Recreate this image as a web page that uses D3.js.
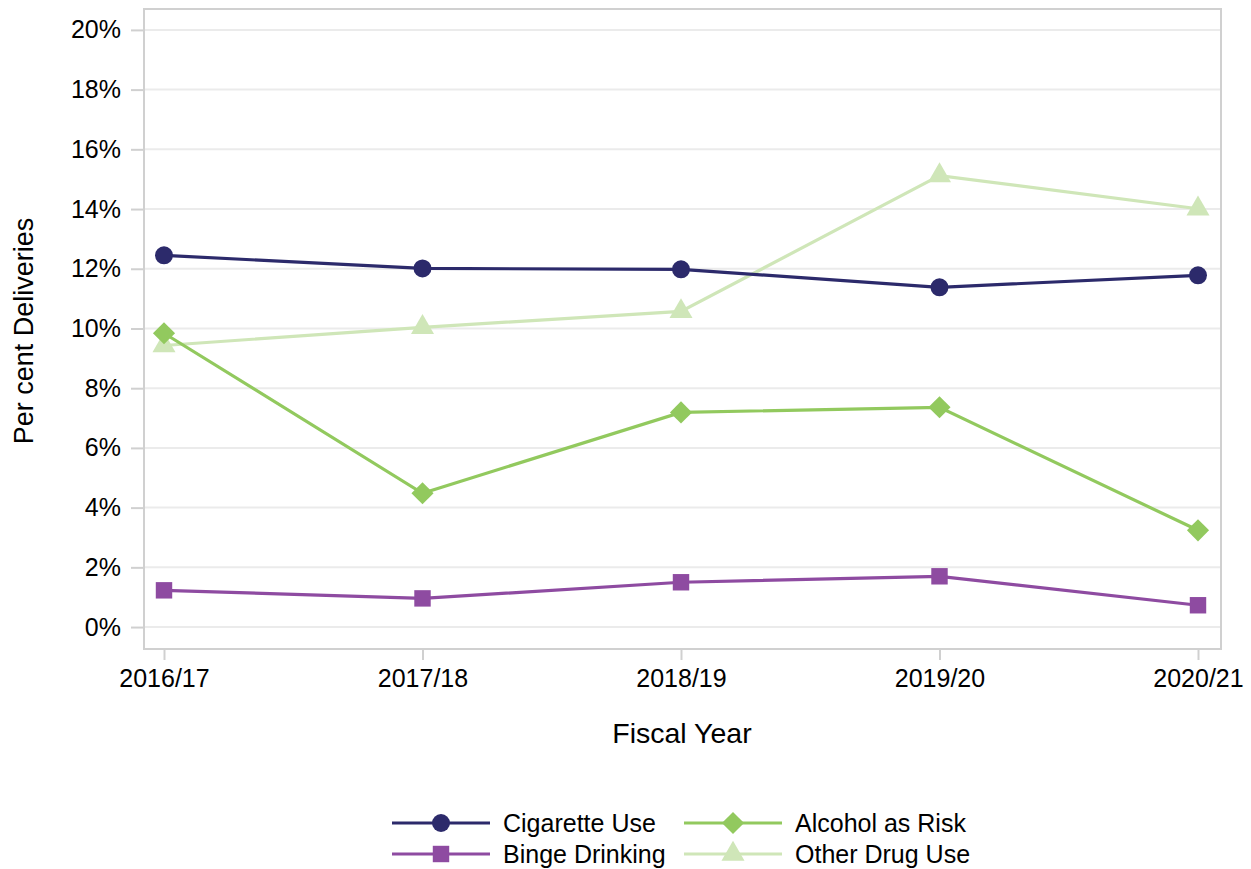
<!DOCTYPE html>
<html><head><meta charset="utf-8">
<script src="https://cdn.jsdelivr.net/npm/d3@7"></script>
<style>body{margin:0;background:#fff;} text{font-family:"Liberation Sans",Arial,sans-serif;fill:#000;}</style>
</head><body>
<svg id="chart" width="1251" height="869"></svg>
<script>
const years = ["2016/17","2017/18","2018/19","2019/20","2020/21"];
const cigarette = [12.45, 12.01, 11.98, 11.38, 11.78];
const binge = [1.23, 0.96, 1.50, 1.70, 0.73];
const alcohol = [9.84, 4.48, 7.19, 7.36, 3.24];
const otherDrug = [9.43, 10.04, 10.57, 15.12, 14.01];
const yTicks = [0,2,4,6,8,10,12,14,16,18,20];
const seriesNames = ["Cigarette Use","Binge Drinking","Alcohol as Risk","Other Drug Use"];

const series = [
  {name: seriesNames[0], values: cigarette, color: "#2c2a6b", symbol: d3.symbolCircle, size: 254, rot: 0},
  {name: seriesNames[1], values: binge, color: "#8e4ba1", symbol: d3.symbolSquare, size: 270, rot: 0},
  {name: seriesNames[2], values: alcohol, color: "#92c95e", symbol: d3.symbolSquare, size: 245, rot: 45},
  {name: seriesNames[3], values: otherDrug, color: "#cfe6b8", symbol: d3.symbolTriangle, size: 230, rot: 0}
];

const svg = d3.select("#chart");
const L = 144, R = 1221, T = 9, B = 649;
const x = d3.scalePoint().domain(years).range([164, 1198]);
const y = d3.scaleLinear().domain([-0.735, 20.7]).range([B, T]);

// gridlines
svg.append("g").selectAll("line").data(yTicks).join("line")
  .attr("x1", L).attr("x2", R).attr("y1", d => y(d)).attr("y2", d => y(d))
  .attr("stroke", "#ebebeb").attr("stroke-width", 2);

// frame
svg.append("rect").attr("x", L).attr("y", T).attr("width", R - L).attr("height", B - T)
  .attr("fill", "none").attr("stroke", "#d0d0d0").attr("stroke-width", 2);

// y axis
const yAxis = d3.axisLeft(y).tickValues(yTicks).tickFormat(d => d + "%").tickSize(13).tickPadding(10);
const gy = svg.append("g").attr("transform", `translate(${L},0)`).call(yAxis);
gy.select(".domain").remove();
gy.selectAll(".tick line").attr("stroke", "#d0d0d0").attr("stroke-width", 2);
gy.selectAll(".tick text").style("font-size", "25px").style("font-family", "Liberation Sans, Arial, sans-serif").attr("fill", "#000");

// x axis
const xAxis = d3.axisBottom(x).tickSize(11).tickPadding(9);
const gx = svg.append("g").attr("transform", `translate(0,${B})`).call(xAxis);
gx.select(".domain").remove();
gx.selectAll(".tick line").attr("stroke", "#d0d0d0").attr("stroke-width", 2);
gx.selectAll(".tick text").style("font-size", "25px").style("font-family", "Liberation Sans, Arial, sans-serif").attr("fill", "#000");

// axis titles
svg.append("text").attr("x", 682).attr("y", 743).attr("text-anchor", "middle")
  .style("font-size", "28.5px").text("Fiscal Year");
svg.append("text").attr("transform", `translate(33,331) rotate(-90)`).attr("text-anchor", "middle")
  .style("font-size", "27px").text("Per cent Deliveries");

// lines
const line = d3.line().x((d, i) => x(years[i])).y(d => y(d));
const drawOrder = [3, 2, 1, 0];
drawOrder.forEach(k => {
  const s = series[k];
  svg.append("path").datum(s.values).attr("d", line)
    .attr("fill", "none").attr("stroke", s.color).attr("stroke-width", 3.2);
});
drawOrder.forEach(k => {
  const s = series[k];
  svg.append("g").selectAll("path").data(s.values).join("path")
    .attr("transform", (d, i) => `translate(${x(years[i])},${y(d)}) rotate(${s.rot})`)
    .attr("d", d3.symbol().type(s.symbol).size(s.size))
    .attr("fill", s.color);
});

// legend
const legendPos = [
  {lx: 392, ly: 823}, {lx: 392, ly: 854}, {lx: 684, ly: 823}, {lx: 684, ly: 854}
];
series.forEach((s, k) => {
  const p = legendPos[k];
  const g = svg.append("g").attr("transform", `translate(${p.lx},${p.ly})`);
  g.append("line").attr("x1", 0).attr("x2", 98).attr("y1", 0).attr("y2", 0)
    .attr("stroke", s.color).attr("stroke-width", 3.2);
  g.append("path").attr("transform", `translate(49,0) rotate(${s.rot})`)
    .attr("d", d3.symbol().type(s.symbol).size(s.size)).attr("fill", s.color);
  g.append("text").attr("x", 111).attr("y", 9).style("font-size", "25px").text(s.name);
});
</script>
</body></html>
